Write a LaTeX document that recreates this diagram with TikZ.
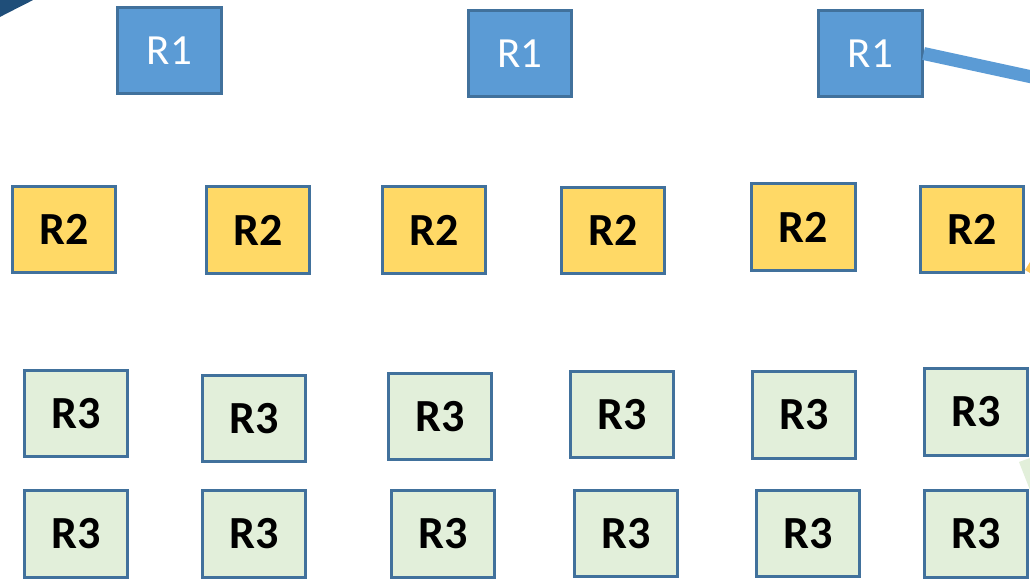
\documentclass[tikz,border=0pt]{standalone}
\usepackage{fontspec}
\setmainfont{Carlito}
\definecolor{edge}{HTML}{41719C}
\definecolor{rone}{HTML}{5B9BD5}
\definecolor{rtwo}{HTML}{FFD966}
\definecolor{rthree}{HTML}{E2EFDA}
\definecolor{swoosh}{HTML}{1F4E79}
\begin{document}
\begin{tikzpicture}[x=1pt,y=-1pt,
  box/.style={draw=edge,line width=2.6pt,minimum width=103.5pt,minimum height=86.5pt,inner sep=0pt},
  rone box/.style={box,fill=rone,text=white,font=\fontsize{43}{48}\selectfont},
  rtwo box/.style={box,fill=rtwo,text=black,font=\fontsize{46}{50}\selectfont\bfseries},
  rthree box/.style={box,fill=rthree,text=black,font=\fontsize{46}{50}\selectfont\bfseries}]
\useasboundingbox (0,0) rectangle (1030,580);
\fill[white] (0,0) rectangle (1030,580);
% swoosh
\fill[swoosh] (0,0) -- (33,0) .. controls (22,6) and (11,11) .. (0,17) -- cycle;
% R1 row
\node[rone box] (a1) at (169.5,50.5) {R1};
\node[rone box] (a2) at (520,53.5) {R1};
\node[rone box] (a3) at (870.5,53.5) {R1};
\coordinate (aout) at (1032,77);
\draw[rone,line width=13pt] (a3.east) -- (aout);
% R2 row
\node[rtwo box] (b1) at (64,229.5) {R2};
\node[rtwo box] (b2) at (258,230) {R2};
\node[rtwo box] (b3) at (434,230) {R2};
\node[rtwo box] (b4) at (613,230.5) {R2};
\node[rtwo box] (b5) at (803.5,227) {R2};
\node[rtwo box] (b6) at (972,229.5) {R2};
\fill[rtwo!80!orange] (1030,262) -- (1025,270) -- (1030,273) -- cycle;
% R3 rows
\node[rthree box] (c1) at (76,413.5) {R3};
\node[rthree box] (c2) at (254,418.5) {R3};
\node[rthree box] (c3) at (440,416.5) {R3};
\node[rthree box] (c4) at (622,414.5) {R3};
\node[rthree box] (c5) at (804,415) {R3};
\node[rthree box] (c6) at (976,412) {R3};
\fill[rthree] (1019,462) -- (1030,458) -- (1030,490) -- cycle;
\node[rthree box] (d1) at (76,534) {R3};
\node[rthree box] (d2) at (254,534) {R3};
\node[rthree box] (d3) at (443,534) {R3};
\node[rthree box] (d4) at (626,533.5) {R3};
\node[rthree box] (d5) at (808,533.5) {R3};
\node[rthree box] (d6) at (976,534) {R3};
\end{tikzpicture}
\end{document}
